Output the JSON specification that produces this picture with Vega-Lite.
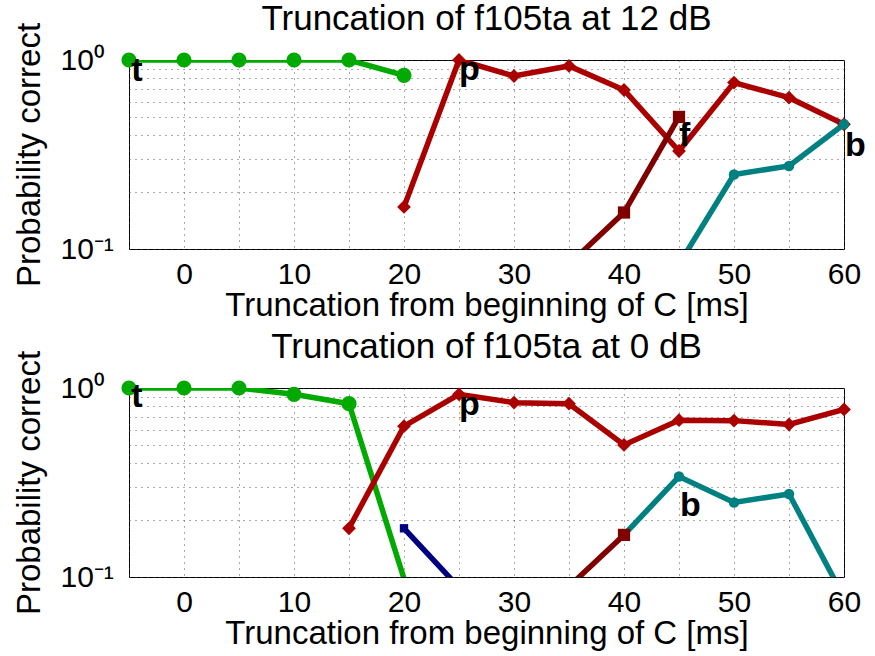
{
  "$schema": "https://vega.github.io/schema/vega-lite/v6.json",
  "padding": {"left": 12, "top": 1, "right": 10, "bottom": 0},
  "background": "white",
  "bounds": "flush",
  "spacing": 139,
  "config": {
    "font": "Liberation Sans",
    "view": {"stroke": "#000", "strokeWidth": 1},
    "axis": {
      "domain": false, "ticks": false,
      "gridColor": "#444", "gridDash": [1, 5], "gridOpacity": 0.9,
      "labelFont": "Liberation Sans", "labelFontSize": 30, "labelColor": "#000",
      "titleFont": "Liberation Sans", "titleFontSize": 33, "titleFontWeight": "normal", "titleColor": "#000"
    },
    "title": {"fontSize": 35, "fontWeight": "normal", "font": "Liberation Sans", "color": "#000", "baseline": "alphabetic", "offset": 29, "dy": 44}
  },
  "datasets": {
    "top": [
      {"s": "t", "x": -5, "y": 1.0}, {"s": "t", "x": 0, "y": 1.0}, {"s": "t", "x": 5, "y": 1.0}, {"s": "t", "x": 10, "y": 1.0}, {"s": "t", "x": 15, "y": 1.0}, {"s": "t", "x": 20, "y": 0.83},
      {"s": "p", "x": 20, "y": 0.167}, {"s": "p", "x": 25, "y": 1.0}, {"s": "p", "x": 30, "y": 0.823}, {"s": "p", "x": 35, "y": 0.93}, {"s": "p", "x": 40, "y": 0.694}, {"s": "p", "x": 45, "y": 0.33}, {"s": "p", "x": 50, "y": 0.76}, {"s": "p", "x": 55, "y": 0.632}, {"s": "p", "x": 60, "y": 0.457},
      {"s": "f", "x": 35, "y": 0.083}, {"s": "f", "x": 40, "y": 0.156}, {"s": "f", "x": 45, "y": 0.5},
      {"s": "b", "x": 45, "y": 0.083}, {"s": "b", "x": 50, "y": 0.248}, {"s": "b", "x": 55, "y": 0.275}, {"s": "b", "x": 60, "y": 0.457}
    ],
    "bottom": [
      {"s": "t", "x": -5, "y": 1.0}, {"s": "t", "x": 0, "y": 1.0}, {"s": "t", "x": 5, "y": 1.0}, {"s": "t", "x": 10, "y": 0.926}, {"s": "t", "x": 15, "y": 0.826}, {"s": "t", "x": 20, "y": 0.098},
      {"s": "p", "x": 15, "y": 0.181}, {"s": "p", "x": 20, "y": 0.628}, {"s": "p", "x": 25, "y": 0.926}, {"s": "p", "x": 30, "y": 0.836}, {"s": "p", "x": 35, "y": 0.826}, {"s": "p", "x": 40, "y": 0.5}, {"s": "p", "x": 45, "y": 0.676}, {"s": "p", "x": 50, "y": 0.672}, {"s": "p", "x": 55, "y": 0.641}, {"s": "p", "x": 60, "y": 0.77},
      {"s": "d", "x": 20, "y": 0.181}, {"s": "d", "x": 25, "y": 0.088},
      {"s": "b", "x": 40, "y": 0.167}, {"s": "b", "x": 45, "y": 0.34}, {"s": "b", "x": 50, "y": 0.248}, {"s": "b", "x": 55, "y": 0.275}, {"s": "b", "x": 60, "y": 0.078},
      {"s": "f", "x": 35, "y": 0.089}, {"s": "f", "x": 40, "y": 0.167}
    ],
    "topLabels": [
      {"label": "t", "x": -4.8, "y": 0.77}, {"label": "p", "x": 25, "y": 0.786}, {"label": "f", "x": 45, "y": 0.35}, {"label": "b", "x": 60.1, "y": 0.31}
    ],
    "bottomLabels": [
      {"label": "t", "x": -4.8, "y": 0.79}, {"label": "p", "x": 25, "y": 0.724}, {"label": "b", "x": 45.1, "y": 0.209}
    ]
  },
  "vconcat": [
    {
      "title": "Truncation of f105ta at 12 dB",
      "width": 715, "height": 189,
      "encoding": {
        "x": {"field": "x", "type": "quantitative", "scale": {"domain": [-5, 60], "nice": false, "zero": false},
          "axis": {"values": [-5, 0, 5, 10, 15, 20, 25, 30, 35, 40, 45, 50, 55, 60], "labelExpr": "datum.value % 10 == 0 ? datum.label : ''", "title": "Truncation from beginning of C [ms]", "labelPadding": 10, "titlePadding": 0, "labelFlush": false, "labelOverlap": false}},
        "y": {"field": "y", "type": "quantitative", "scale": {"type": "log", "domain": [0.1, 1], "nice": false},
          "axis": {"values": [0.1, 0.2, 0.3, 0.4, 0.5, 0.6, 0.7, 0.8, 0.9, 1], "labelExpr": "datum.value == 1 ? '10⁰' : datum.value == 0.1 ? '10⁻¹' : ''", "labelAlign": "left", "labelPadding": 69, "labelBaseline": "middle", "title": "Probability correct", "titlePadding": 14, "labelOverlap": false, "labelFlush": false}}
      },
      "layer": [
        {"data": {"name": "top"}, "mark": {"type": "line", "strokeWidth": 5.5, "clip": true},
          "encoding": {"color": {"field": "s", "type": "nominal", "scale": {"domain": ["t", "p", "f", "b", "d"], "range": ["#00aa00", "#aa0000", "#800000", "#008080", "#000080"]}, "legend": null}}},
        {"data": {"name": "top"}, "transform": [{"filter": "datum.y >= 0.1"}], "mark": {"type": "point", "filled": true, "opacity": 1, "clip": false},
          "encoding": {
            "color": {"field": "s", "type": "nominal", "scale": {"domain": ["t", "p", "f", "b", "d"], "range": ["#00aa00", "#aa0000", "#800000", "#008080", "#000080"]}, "legend": null},
            "shape": {"field": "s", "type": "nominal", "scale": {"domain": ["t", "p", "f", "b", "d"], "range": ["circle", "diamond", "square", "circle", "square"]}, "legend": null},
            "size": {"field": "s", "type": "nominal", "scale": {"domain": ["t", "p", "f", "b", "d"], "range": [230, 70, 180, 55, 180]}, "legend": null}
          }},
        {"data": {"name": "topLabels"}, "mark": {"type": "text", "fontSize": 34, "fontWeight": "bold", "align": "left", "baseline": "alphabetic", "clip": false, "color": "#000", "font": "Liberation Sans"},
          "encoding": {"text": {"field": "label", "type": "nominal"}}}
      ]
    },
    {
      "title": "Truncation of f105ta at 0 dB",
      "width": 715, "height": 189,
      "encoding": {
        "x": {"field": "x", "type": "quantitative", "scale": {"domain": [-5, 60], "nice": false, "zero": false},
          "axis": {"values": [-5, 0, 5, 10, 15, 20, 25, 30, 35, 40, 45, 50, 55, 60], "labelExpr": "datum.value % 10 == 0 ? datum.label : ''", "title": "Truncation from beginning of C [ms]", "labelPadding": 10, "titlePadding": 0, "labelFlush": false, "labelOverlap": false}},
        "y": {"field": "y", "type": "quantitative", "scale": {"type": "log", "domain": [0.1, 1], "nice": false},
          "axis": {"values": [0.1, 0.2, 0.3, 0.4, 0.5, 0.6, 0.7, 0.8, 0.9, 1], "labelExpr": "datum.value == 1 ? '10⁰' : datum.value == 0.1 ? '10⁻¹' : ''", "labelAlign": "left", "labelPadding": 69, "labelBaseline": "middle", "title": "Probability correct", "titlePadding": 14, "labelOverlap": false, "labelFlush": false}}
      },
      "layer": [
        {"data": {"name": "bottom"}, "mark": {"type": "line", "strokeWidth": 5.5, "clip": true},
          "encoding": {"color": {"field": "s", "type": "nominal", "scale": {"domain": ["t", "p", "f", "b", "d"], "range": ["#00aa00", "#aa0000", "#800000", "#008080", "#000080"]}, "legend": null}}},
        {"data": {"name": "bottom"}, "transform": [{"filter": "datum.y >= 0.1"}], "mark": {"type": "point", "filled": true, "opacity": 1, "clip": false},
          "encoding": {
            "color": {"field": "s", "type": "nominal", "scale": {"domain": ["t", "p", "f", "b", "d"], "range": ["#00aa00", "#aa0000", "#800000", "#008080", "#000080"]}, "legend": null},
            "shape": {"field": "s", "type": "nominal", "scale": {"domain": ["t", "p", "f", "b", "d"], "range": ["circle", "diamond", "square", "circle", "square"]}, "legend": null},
            "size": {"field": "s", "type": "nominal", "scale": {"domain": ["t", "p", "f", "b", "d"], "range": [230, 70, 180, 55, 180]}, "legend": null}
          }},
        {"data": {"name": "bottomLabels"}, "mark": {"type": "text", "fontSize": 34, "fontWeight": "bold", "align": "left", "baseline": "alphabetic", "clip": false, "color": "#000", "font": "Liberation Sans"},
          "encoding": {"text": {"field": "label", "type": "nominal"}}}
      ]
    }
  ]
}
